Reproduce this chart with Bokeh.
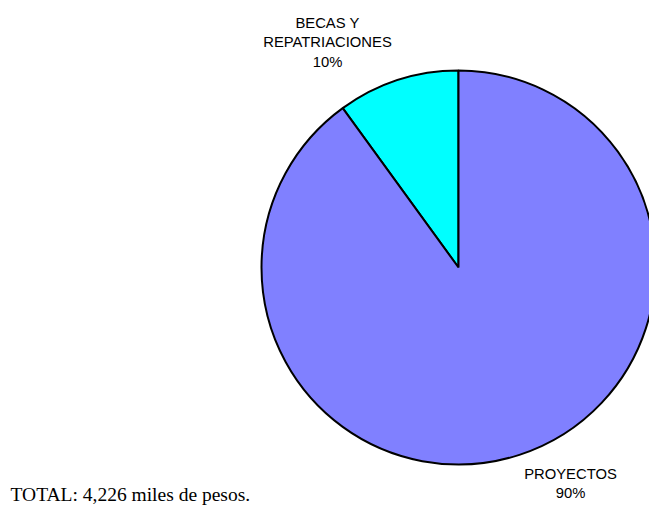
import math
from bokeh.plotting import figure
from bokeh.models import Range1d, ColumnDataSource
from bokeh.core.properties import value
from bokeh.embed import file_html
from bokeh.resources import INLINE

# ---- data ----
categories = ["BECAS Y\nREPATRIACIONES", "PROYECTOS"]
values = [10, 90]
colors = ["#00FFFF", "#8080FF"]
total_text = "TOTAL: 4,226 miles de pesos."

# ---- layout ----
W, H = 649, 507
def Y(img_y):
    return H - img_y
def X(img_x):
    return img_x

cx, cy, r = X(458), Y(267), 197

p = figure(width=W, height=H, output_backend="svg", toolbar_location=None,
           x_range=Range1d(0, W), y_range=Range1d(0, H), min_border=0)
p.axis.visible = False
p.grid.visible = False
p.outline_line_color = None

tot = sum(values)
starts, ends = [], []
a = math.pi / 2
for v in values:
    starts.append(a)
    a += 2 * math.pi * v / tot
    ends.append(a)

src = ColumnDataSource(dict(start=starts, end=ends, color=colors,
                            x=[cx] * len(values), y=[cy] * len(values)))
p.wedge(x="x", y="y", radius=r, radius_units="screen", start_angle="start", end_angle="end",
        fill_color="color", line_color="black", line_width=2, source=src)

# labels
label_pos = [(X(327), Y(22)), (X(570), Y(473))]
for (lx, ly), cat, v in zip(label_pos, categories, values):
    lines = cat.split("\n") + ["%d%%" % round(100 * v / tot)]
    for i, t in enumerate(lines):
        p.text(x=[lx], y=[ly - i * 19.5], text=[t], text_align="center", text_baseline="middle",
               text_font=value("Liberation Sans"), text_font_size="14.8px", text_color="black")

p.text(x=[X(10)], y=[Y(494)], text=[total_text], text_align="left", text_baseline="middle",
       text_font=value("Liberation Serif"), text_font_size="19.5px", text_color="black")

open("out.html", "w").write(file_html(p, INLINE))
